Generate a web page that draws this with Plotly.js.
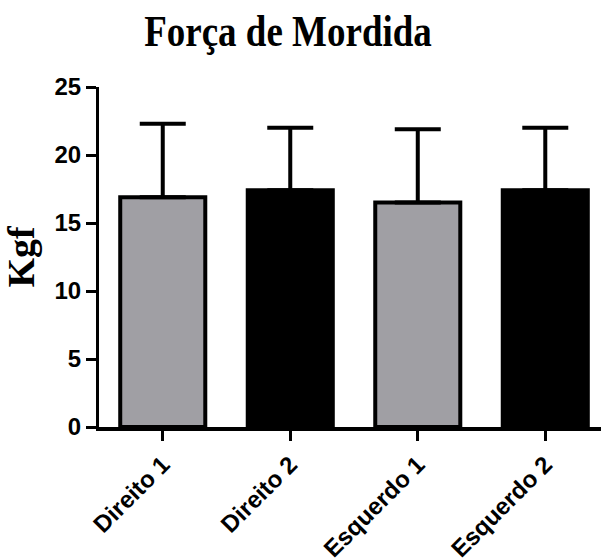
<!DOCTYPE html>
<html>
<head>
<meta charset="utf-8">
<script src="https://cdn.plot.ly/plotly-3.0.1.min.js"></script>
<style>
  html, body { margin: 0; padding: 0; background: #ffffff; }
  #chart { width: 601px; height: 559px; }
</style>
</head>
<body>
<div id="chart"></div>
<script>
// Bite force per side (mean + SD), in kgf
const groups = ['Direito 1', 'Direito 2', 'Esquerdo 1', 'Esquerdo 2'];
const means = [16.9, 17.4, 16.5, 17.4];
const sds = [5.4, 4.6, 5.4, 4.6];
const fills = ['#a09fa4', '#000000', '#a09fa4', '#000000'];
const yTicks = [0, 5, 10, 15, 20, 25];

const trace = {
  type: 'bar',
  x: groups,
  y: means,
  marker: { color: fills, line: { color: '#000000', width: 4 } },
  error_y: {
    type: 'data',
    array: sds,
    arrayminus: sds.map(() => 0),
    symmetric: false,
    color: '#000000',
    thickness: 4,
    width: 23
  },
  hoverinfo: 'none'
};

const layout = {
  width: 601,
  height: 559,
  margin: { l: 99, r: 0, t: 87, b: 132 },
  paper_bgcolor: '#ffffff',
  plot_bgcolor: '#ffffff',
  showlegend: false,
  bargap: 0.333,
  title: {
    text: 'Força de Mordida',
    font: { family: '"Liberation Serif", "Times New Roman", serif', size: 37, color: '#000000', weight: 'bold' },
    x: 288 / 601,
    xref: 'container',
    xanchor: 'center',
    y: 1 - 31 / 559,
    yref: 'container',
    yanchor: 'middle'
  },
  xaxis: {
    type: 'category',
    range: [-0.5, 3.437],
    showline: true,
    linecolor: '#000000',
    linewidth: 4,
    ticks: 'outside',
    ticklen: 10,
    tickwidth: 3,
    tickcolor: '#000000',
    tickangle: -45,
    tickfont: { family: '"Liberation Sans", Arial, sans-serif', size: 24, color: '#000000', weight: 'bold' },
    showgrid: false,
    zeroline: false
  },
  yaxis: {
    range: [0, 25],
    tickvals: yTicks,
    ticktext: yTicks.map(String),
    showline: true,
    linecolor: '#000000',
    linewidth: 3,
    ticks: 'outside',
    ticklen: 10,
    tickwidth: 3,
    tickcolor: '#000000',
    tickfont: { family: '"Liberation Sans", Arial, sans-serif', size: 24, color: '#000000', weight: 'bold' },
    showgrid: false,
    zeroline: false,
    title: {
      text: 'Kgf',
      font: { family: '"Liberation Serif", "Times New Roman", serif', size: 38, color: '#000000', weight: 'bold' },
      standoff: 12
    }
  }
};

Plotly.newPlot('chart', [trace], layout, { staticPlot: true, displayModeBar: false }).then(function (gd) {
  // The heading is set in a tall, narrow cut: stretch it vertically about its centre.
  const t = gd.querySelector('.gtitle');
  if (t) {
    const b = t.getBBox();
    const s = 1.2;
    const cy = b.y + b.height / 2;
    t.setAttribute('transform', 'translate(0,' + (cy * (1 - s)) + ') scale(1,' + s + ')');
  }
});
</script>
</body>
</html>
